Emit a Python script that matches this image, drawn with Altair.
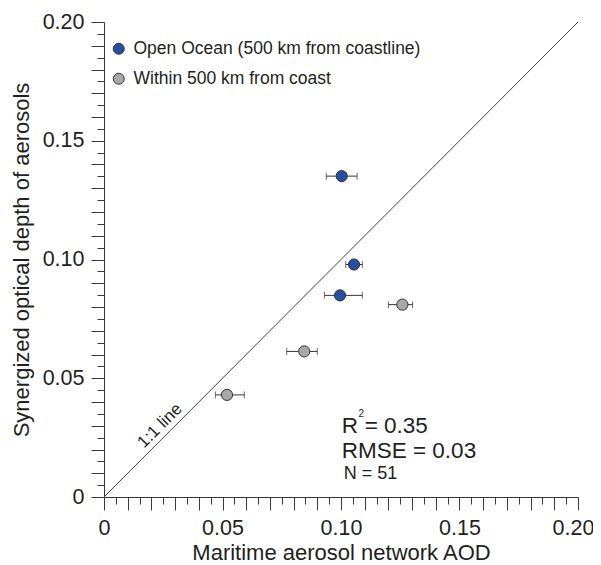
import altair as alt
import pandas as pd

# ---- data ----
groups = ["Open Ocean (500 km from coastline)", "Within 500 km from coast"]
ocean_x = [0.1003, 0.1055, 0.0996]
ocean_y = [0.1351, 0.0979, 0.0849]
ocean_xmin = [0.0938, 0.1020, 0.0930]
ocean_xmax = [0.1068, 0.1090, 0.1090]
coast_x = [0.1259, 0.0845, 0.0519]
coast_y = [0.0810, 0.0613, 0.0430]
coast_xmin = [0.1200, 0.0771, 0.0470]
coast_xmax = [0.1302, 0.0900, 0.0592]
line_vals = [0.0, 0.2]
tick_vals = [round(i * 0.005, 3) for i in range(41)]

FONT = "Liberation Sans"
DARK = "#231f20"
AX = "#3a3a3a"

pts = pd.DataFrame({
    "x": ocean_x + coast_x,
    "y": ocean_y + coast_y,
    "xmin": ocean_xmin + coast_xmin,
    "xmax": ocean_xmax + coast_xmax,
    "group": [groups[0]] * len(ocean_x) + [groups[1]] * len(coast_x),
})
line_df = pd.DataFrame({"x": line_vals, "y": line_vals})

major = "abs(datum.value*100 - round(datum.value*100)) < 1e-6"
lab = "datum.value == 0 ? '0' : (abs(datum.value*20 - round(datum.value*20)) < 1e-6 ? format(datum.value, '.2f') : '')"
tsize = {"condition": {"test": major, "value": 13}, "value": 7}
xlaboff = {"condition": {"test": "datum.value >= 0.199", "value": -5}, "value": 0}

xscale = alt.Scale(domain=[0, 0.2], nice=False, zero=True)
yscale = alt.Scale(domain=[0, 0.2], nice=False, zero=True)

xaxis = alt.Axis(values=tick_vals, labelExpr=lab, tickSize=tsize, grid=False,
                 labelFlush=False, labelOverlap=False, labelPadding=7.5,
                 labelOffset=xlaboff,
                 title="Maritime aerosol network AOD", titleY=62,
                 titleBaseline="alphabetic")
yaxis = alt.Axis(values=tick_vals, labelExpr=lab, tickSize=tsize, grid=False,
                 labelOverlap=False, labelPadding=7,
                 title="Synergized optical depth of aerosols", titleX=-76,
                 titleBaseline="alphabetic")


def X(f):
    return alt.X(f, type="quantitative", scale=xscale, axis=xaxis)


def Y(f):
    return alt.Y(f, type="quantitative", scale=yscale, axis=yaxis)


base = alt.Chart(pts)

one2one = alt.Chart(line_df).mark_line(color="#444", strokeWidth=1).encode(
    x=X("x"), y=Y("y"))

err = base.mark_rule(color="#333", strokeWidth=1).encode(
    x=X("xmin"), x2="xmax:Q", y=Y("y"))
cap_l = base.mark_tick(orient="vertical", color="#333", size=7, thickness=1).encode(
    x=X("xmin"), y=Y("y"))
cap_r = base.mark_tick(orient="vertical", color="#333", size=7, thickness=1).encode(
    x=X("xmax"), y=Y("y"))

points = base.mark_circle(size=125, opacity=1, stroke="#333", strokeWidth=1).encode(
    x=X("x"), y=Y("y"),
    color=alt.Color("group:N",
                    scale=alt.Scale(domain=groups, range=["#2350a3", "#a7a8aa"]),
                    legend=alt.Legend(title=None, orient="none", legendX=6, legendY=18,
                                      labelFont=FONT, labelFontSize=17.5, labelColor=DARK,
                                      labelLimit=500,
                                      symbolType="circle", symbolSize=120,
                                      symbolStrokeColor="#333", symbolStrokeWidth=1,
                                      rowPadding=11, labelOffset=6, padding=0)),
)

ann = pd.DataFrame({
    "x": [0.1003, 0.1003, 0.1012],
    "y": [0.0271, 0.0163, 0.0075],
    "t": ["R", "RMSE = 0.03", "N = 51"],
    "s": [22.5, 22.5, 18],
})
ann_t = alt.Chart(ann).mark_text(align="left", baseline="alphabetic", font=FONT, color=DARK).encode(
    x=X("x"), y=Y("y"), text="t:N", size=alt.Size("s:Q", scale=None, legend=None))

r2rest = pd.DataFrame({"x": [0.1100], "y": [0.0271], "t": ["= 0.35"]})
r2r = alt.Chart(r2rest).mark_text(align="left", baseline="alphabetic", font=FONT, fontSize=22.5,
                                  color=DARK).encode(x=X("x"), y=Y("y"), text="t:N")
sup = pd.DataFrame({"x": [0.1074], "y": [0.0335], "t": ["2"]})
sup_t = alt.Chart(sup).mark_text(align="left", baseline="alphabetic", font=FONT, fontSize=10,
                                 color=DARK).encode(x=X("x"), y=Y("y"), text="t:N")

lbl = pd.DataFrame({"x": [0.0236], "y": [0.0300], "t": ["1:1 line"]})
lbl_t = alt.Chart(lbl).mark_text(align="center", baseline="middle", font=FONT, fontSize=17,
                                 angle=315, color=DARK).encode(x=X("x"), y=Y("y"), text="t:N")

chart = alt.layer(one2one, err, cap_l, cap_r, points, ann_t, r2r, sup_t, lbl_t).properties(
    width=474, height=475,
    autosize=alt.AutoSizeParams(type="none"),
    padding={"left": 96, "top": 14, "right": 15, "bottom": 66},
).configure_view(stroke=None).configure_axis(
    labelFont=FONT, titleFont=FONT, labelFontSize=21.5, titleFontSize=22,
    labelColor=DARK, titleColor=DARK, titleFontWeight="normal",
    domainColor=AX, tickColor=AX, domainWidth=1, tickWidth=1,
)

chart.save("out.html", embed_options={"renderer": "svg", "actions": False})
